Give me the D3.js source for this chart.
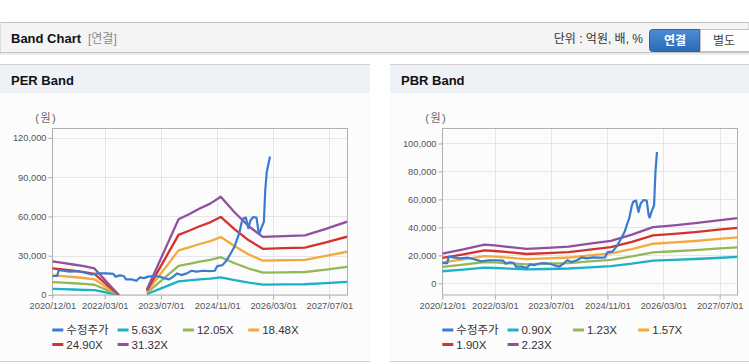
<!DOCTYPE html>
<html><head><meta charset="utf-8">
<script src="https://cdn.jsdelivr.net/npm/d3@7"></script>
<style>
html,body{margin:0;padding:0;background:#fff;}
svg{display:block;font-family:"Liberation Sans","Noto Sans CJK KR",Arial,sans-serif;}
</style></head><body>
<svg id="c" width="749" height="364"></svg>
<script>
// ---------- data ----------
const tickLabels = ["2020/12/01","2022/03/01","2023/07/01","2024/11/01","2026/03/01","2027/07/01"];
const perYTicks = [0,30000,60000,90000,120000];
const pbrYTicks = [0,20000,40000,60000,80000,100000];

const priceDates = ["2020-12-01","2021-01-13","2021-01-25","2021-03-04","2021-05-01","2021-07-13","2021-09-10","2021-11-07",
 "2022-01-04","2022-03-16","2022-05-13","2022-06-04","2022-07-10","2022-08-13","2022-09-01","2022-10-19","2022-12-01",
 "2023-01-01","2023-02-04","2023-03-13","2023-04-25","2023-06-22","2023-08-04","2023-09-10","2023-10-16","2023-11-19","2023-12-25",
 "2024-02-10","2024-03-22","2024-05-04","2024-07-01","2024-08-28","2024-10-10","2024-11-01","2024-12-16",
 "2025-01-22","2025-02-25","2025-04-01","2025-04-19","2025-05-10","2025-06-01","2025-06-13","2025-07-07","2025-07-28",
 "2025-08-16","2025-09-10","2025-10-07","2025-10-25","2025-11-01","2025-11-19","2025-12-10","2025-12-22","2026-01-04","2026-02-01"];
const priceValues = [14500,14500,19000,18500,17800,18300,17000,15700,
 16500,16500,16200,14000,15000,14500,11900,11900,10900,
 13500,12900,14000,14500,14000,12700,11900,14000,16500,15200,
 16500,18500,17800,18500,18300,18500,22100,22800,
 26600,31700,37300,42000,47000,55800,58400,59100,51000,
 57100,59600,59100,48200,47000,51500,55800,80000,93900,105800];

const perBandDates = ["2020-12-01","2021-03-01","2021-06-01","2021-09-01","2021-12-01","2022-07-01","2022-11-01",
 "2023-03-01","2023-06-01","2023-09-01","2023-12-01","2024-03-01","2024-06-01","2024-09-01","2024-12-01",
 "2025-04-01","2025-08-01","2025-12-01","2026-06-01","2026-12-01","2027-06-01","2027-12-01"];
const perNames = ["수정주가","5.63X","12.05X","18.48X","24.90X","31.32X"];
const per563  = [4610,4410,4190,3960,3650,0,null,760,3960,7200,10400,11110,11880,12560,13500,11340,9450,7990,8100,8210,9090,10080];
const per1205 = [9860,9430,8970,8470,7820,0,null,1620,8470,15400,22250,23750,25410,26870,28880,24260,20210,17090,17330,17560,19440,21560];
const per1848 = [15100,14460,13750,12980,11980,0,null,2480,12980,23600,34100,36400,38940,41180,44250,37170,30980,26200,26550,26900,29800,33040];
const per2490 = [20350,19480,18520,17490,16140,0,null,3340,17490,31800,45950,49050,52470,55490,59630,50090,41740,35300,35780,36250,40150,44520];
const per3132 = [25600,24500,23300,22000,20300,0,null,4200,22000,40000,57800,61700,66000,69800,75000,63000,52500,44400,45000,45600,50500,56000];

const pbrBandDates = ["2020-12-01","2021-06-01","2021-12-01","2022-03-01","2022-06-01","2022-12-01","2023-06-01","2023-12-01",
 "2024-06-01","2024-12-01","2025-06-01","2025-12-01","2026-06-01","2026-12-01","2027-06-01","2027-12-01"];
const pbrNames = ["수정주가","0.90X","1.23X","1.57X","1.90X","2.23X"];
const pbr090 = [8610,9780,11150,10950,10630,9940,10220,10580,11430,12280,14060,16240,16770,17370,18100,18830];
const pbr123 = [11760,13360,15240,14960,14520,13580,13970,14460,15620,16780,19210,22190,22910,23740,24730,25720];
const pbr157 = [15000,17040,19430,19080,18520,17320,17810,18440,19920,21400,24500,28300,29220,30270,31540,32810];
const pbr190 = [18150,20620,23520,23090,22410,20960,21560,22320,24110,25900,29650,34250,35360,36640,38170,39700];
const pbr223 = [21300,24200,27600,27100,26300,24600,25300,26200,28300,30400,34800,40200,41500,43000,44800,46600];

const colors = ["#3a7bd0","#1bb1c6","#93b957","#f3a93c","#d4322c","#914f9f"];

// ---------- drawing ----------
const parse = d3.timeParse("%Y-%m-%d");
const parseTick = d3.timeParse("%Y/%m/%d");
const svg = d3.select("#c");
const FONT_AX = 9.3;

// header
svg.append("rect").attr("x",0).attr("y",0).attr("width",749).attr("height",364).attr("fill","#fff");
svg.append("rect").attr("x",0).attr("y",22.5).attr("width",749).attr("height",30).attr("fill","#f4f4f4").attr("stroke","#c4c4c4");
svg.append("rect").attr("x",0).attr("y",53).attr("width",749).attr("height",2).attr("fill","#ececec");
svg.append("text").attr("x",11).attr("y",43).attr("font-size",13).attr("font-weight","bold").attr("fill","#111").text("Band Chart");
svg.append("text").attr("x",88).attr("y",43).attr("font-size",12).attr("fill","#8a8a8a").text("[연결]");
svg.append("text").attr("x",643).attr("y",43).attr("text-anchor","end").attr("font-size",12).attr("fill","#333").text("단위 : 억원, 배, %");
const grad = svg.append("defs").append("linearGradient").attr("id","bg1").attr("x1",0).attr("x2",0).attr("y1",0).attr("y2",1);
grad.append("stop").attr("offset","0").attr("stop-color","#4c8fd6");
grad.append("stop").attr("offset","1").attr("stop-color","#2b69b5");
svg.append("path").attr("d","M700,29.5 H652.5 Q649.5,29.5 649.5,32.5 V48.5 Q649.5,51.5 652.5,51.5 H700 Z").attr("fill","url(#bg1)").attr("stroke","#2a62a8");
svg.append("rect").attr("x",700.5).attr("y",29.5).attr("width",50).attr("height",22).attr("fill","#fdfdfd").attr("stroke","#c2c2c2");
svg.append("text").attr("x",675).attr("y",45).attr("text-anchor","middle").attr("font-size",12).attr("font-weight","bold").attr("fill","#fff").text("연결");
svg.append("text").attr("x",724).attr("y",45).attr("text-anchor","middle").attr("font-size",12).attr("fill","#444").text("별도");

function panel(opt){
  const g = svg.append("g");
  g.append("rect").attr("x",opt.px).attr("y",64).attr("width",opt.pw).attr("height",297).attr("fill","#fcfcfd");
  g.append("rect").attr("x",opt.px).attr("y",64).attr("width",opt.pw).attr("height",29).attr("fill","#eef2f7");
  g.append("line").attr("x1",opt.px).attr("x2",opt.px+opt.pw).attr("y1",64.5).attr("y2",64.5).attr("stroke","#d0d0d0");
  g.append("line").attr("x1",opt.px).attr("x2",opt.px+opt.pw).attr("y1",361.5).attr("y2",361.5).attr("stroke","#d0d0d0");
  g.append("text").attr("x",opt.px+11).attr("y",85).attr("font-size",13).attr("font-weight","bold").attr("fill","#111").text(opt.title);

  const x = d3.scaleTime().domain([parse("2020-12-01"),parse("2027-12-01")]).range([opt.x0,opt.x1]);
  const y = d3.scaleLinear().domain(opt.yDomain).range([295,128.5]);
  const ticks = tickLabels.map(parseTick);

  // grid
  g.append("g").selectAll("line").data(opt.yTicks).join("line")
    .attr("x1",opt.x0).attr("x2",opt.x1).attr("y1",d=>Math.round(y(d))+0.5).attr("y2",d=>Math.round(y(d))+0.5)
    .attr("stroke","#e6e6e6");
  g.append("g").selectAll("line").data(ticks).join("line")
    .attr("x1",d=>Math.round(x(d))+0.5).attr("x2",d=>Math.round(x(d))+0.5).attr("y1",128.5).attr("y2",295)
    .attr("stroke","#e6e6e6");

  // axes
  const yAxis = d3.axisLeft(y).tickValues(opt.yTicks).tickSize(4).tickPadding(2).tickFormat(d3.format(","));
  const ya = g.append("g").attr("transform",`translate(${Math.round(opt.x0)+0.5},0)`).call(yAxis);
  ya.select(".domain").remove();
  ya.selectAll("line").attr("stroke","#aaa");
  ya.selectAll("text").attr("font-size",FONT_AX).attr("fill","#555").attr("font-family",null);
  const xAxis = d3.axisBottom(x).tickValues(ticks).tickSize(4).tickPadding(3).tickFormat(d3.timeFormat("%Y/%m/%d"));
  const xa = g.append("g").attr("transform","translate(0,295.5)").call(xAxis);
  xa.select(".domain").remove();
  xa.selectAll("line").attr("stroke","#aaa");
  xa.selectAll("text").attr("font-size",FONT_AX).attr("fill","#555").attr("font-family",null);
  g.append("rect").attr("x",Math.round(opt.x0)+0.5).attr("y",128.5).attr("width",Math.round(opt.x1-opt.x0)).attr("height",166.5)
    .attr("fill","none").attr("stroke","#b0b0b0");
  g.append("text").attr("x",opt.x0-6).attr("y",122).attr("text-anchor","middle").attr("font-size",11).attr("letter-spacing",1.5).attr("fill","#666").text("(원)");

  // series
  const line = d3.line().defined(d=>d.v!=null).x(d=>x(d.t)).y(d=>y(d.v));
  const clipId = "clip"+opt.title.replace(/\s/g,"");
  g.append("clipPath").attr("id",clipId).append("rect").attr("x",opt.x0).attr("y",128.5).attr("width",opt.x1-opt.x0).attr("height",166.5);
  const sg = g.append("g").attr("clip-path",`url(#${clipId})`);
  opt.bands.forEach((arr,i)=>{
    const data = arr.map((v,j)=>({t:parse(opt.bandDates[j]),v:v}));
    sg.append("path").datum(data).attr("d",line).attr("fill","none").attr("stroke",colors[i+1]).attr("stroke-width",2.3).attr("stroke-linejoin","round");
  });
  const pdata = opt.priceValues.map((v,j)=>({t:parse(opt.priceDates[j]),v:v}));
  sg.append("path").datum(pdata).attr("d",line).attr("fill","none").attr("stroke",colors[0]).attr("stroke-width",2.2).attr("stroke-linejoin","round");

  // legend
  const lg = g.append("g");
  opt.names.forEach((n,i)=>{
    const cx = opt.x0 + (i%4)*65.3, cy = 330 + Math.floor(i/4)*14.5;
    lg.append("line").attr("x1",cx).attr("x2",cx+11).attr("y1",cy).attr("y2",cy).attr("stroke",colors[i]).attr("stroke-width",3);
    lg.append("text").attr("x",cx+14).attr("y",cy+4).attr("font-size",11.5).attr("fill","#333").text(n);
  });
}

panel({title:"PER Band",px:0,pw:370,x0:52.3,x1:347,yDomain:[0,127150],yTicks:perYTicks,
  bands:[per563,per1205,per1848,per2490,per3132],bandDates:perBandDates,names:perNames,
  priceDates:priceDates,priceValues:priceValues});
panel({title:"PBR Band",px:390,pw:359,x0:442.3,x1:737.3,yDomain:[-8360,110700],yTicks:pbrYTicks,
  bands:[pbr090,pbr123,pbr157,pbr190,pbr223],bandDates:pbrBandDates,names:pbrNames,
  priceDates:priceDates.slice(0,-1),priceValues:priceValues.slice(0,-1)});
</script>
</body></html>
